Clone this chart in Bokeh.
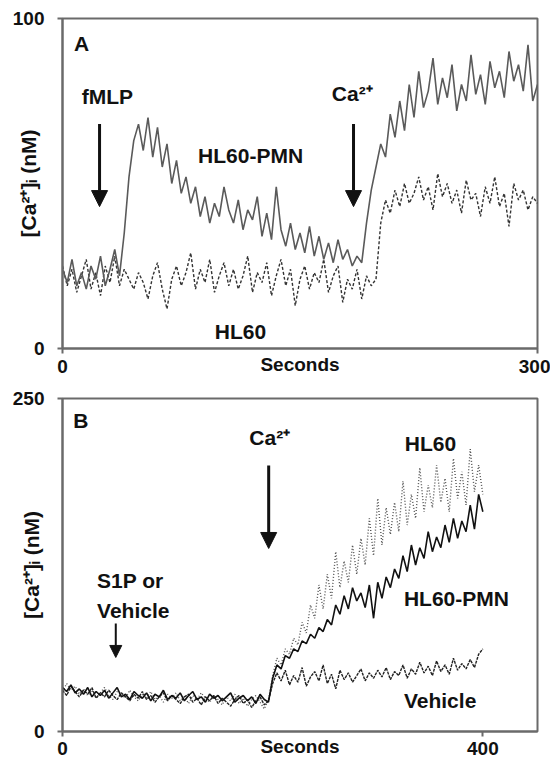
from bokeh.plotting import figure
from bokeh.layouts import column
from bokeh.models import Range1d, FixedTicker, Label, Arrow, NormalHead, ColumnDataSource
from bokeh.embed import file_html
from bokeh.resources import INLINE

# ---------------- Panel A data (seconds, nM) ----------------
time_a = list(range(0, 301, 3))
a_hl60_pmn = [24, 20, 27, 19, 23, 18, 25, 21, 28, 19, 24, 30, 22, 35, 52, 63, 68, 60, 70, 58,
              67, 55, 62, 50, 57, 47, 52, 44, 49, 40, 46, 38, 44, 40, 49, 42, 38, 45, 36, 42,
              39, 46, 34, 41, 33, 49, 36, 31, 38, 30, 35, 29, 37, 28, 34, 27, 32, 26, 33, 27,
              30, 25, 28, 26, 38, 48, 55, 62, 58, 71, 64, 75, 66, 80, 70, 84, 73, 78, 88, 74,
              82, 76, 86, 72, 80, 75, 89, 77, 83, 74, 87, 79, 84, 76, 90, 81, 86, 78, 92, 75, 80]
a_hl60 = [25, 19, 24, 17, 22, 27, 18, 23, 16, 25, 20, 28, 19, 24, 21, 18, 23, 20, 15, 22,
          26, 18, 12, 21, 25, 19, 23, 29, 18, 24, 20, 27, 17, 22, 26, 19, 24, 18, 22, 28,
          17, 23, 20, 26, 16, 22, 27, 19, 24, 13, 21, 25, 18, 23, 20, 27, 17, 22, 25, 14,
          21, 18, 24, 15, 22, 19, 21, 38, 45, 41, 48, 43, 50, 44, 47, 52, 45, 49, 42, 53,
          46, 50, 44, 48, 41, 51, 45, 47, 40, 49, 44, 52, 43, 47, 37, 50, 45, 48, 42, 46, 44]

# ---------------- Panel B data (seconds, nM) ----------------
time_b = list(range(0, 401, 4))
b_hl60_pmn = [33, 30, 35, 29, 32, 28, 33, 26, 30, 27, 31, 25, 29, 33, 26, 28, 24, 30, 27, 25,
              29, 23, 28, 26, 31, 24, 27, 25, 29, 23, 27, 30, 24, 26, 22, 28, 25, 27, 23, 26,
              29, 22, 25, 27, 23, 26, 21, 28, 24, 22, 40, 50, 47, 57, 55, 62, 60, 68, 66, 73,
              70, 78, 75, 84, 80, 95, 88, 102, 92, 108, 98, 104, 93, 110, 85, 112, 100, 116, 108, 122,
              115, 132, 120, 140, 125, 138, 130, 150, 135, 146, 138, 155, 142, 160, 145, 158, 150, 170, 152, 178, 165]
b_hl60 = [30, 36, 31, 34, 28, 32, 27, 31, 25, 29, 33, 27, 24, 30, 28, 25, 31, 26, 23, 28,
          25, 30, 24, 27, 22, 28, 25, 29, 23, 26, 21, 27, 24, 29, 25, 22, 27, 24, 20, 26,
          23, 28, 21, 25, 19, 24, 27, 22, 17, 24, 42, 55, 50, 62, 58, 70, 65, 82, 74, 95,
          85, 110, 92, 118, 100, 135, 108, 128, 112, 140, 118, 145, 125, 160, 132, 175, 140, 168, 148, 172,
          150, 188, 155, 178, 160, 198, 165, 185, 168, 200, 172, 190, 165, 205, 175, 195, 170, 212, 180, 200, 178]
b_vehicle = [31, 27, 34, 30, 26, 31, 28, 33, 25, 29, 26, 31, 27, 24, 29, 26, 23, 28, 25, 30,
             24, 27, 22, 26, 29, 23, 27, 24, 21, 26, 28, 22, 25, 20, 26, 23, 27, 21, 25, 22,
             19, 24, 27, 21, 24, 18, 23, 26, 20, 23, 36, 44, 38, 46, 35, 42, 37, 48, 34, 41,
             45, 38, 50, 36, 43, 32, 46, 39, 44, 37, 42, 47, 38, 44, 40, 46, 41, 48, 39, 45,
             42, 50, 40, 47, 43, 52, 44, 49, 42, 53, 45, 50, 43, 55, 46, 51, 47, 54, 48, 58, 62]

FONT = "Liberation Sans"
INK = "#111111"
YLABEL = "[Ca²⁺]ᵢ (nM)"


def style(p, xticks, yticks, ylab_standoff):
    p.xgrid.visible = False
    p.ygrid.visible = False
    p.outline_line_color = "#6a6a6a"
    p.outline_line_width = 2
    for ax in (p.xaxis[0], p.yaxis[0]):
        ax.axis_line_color = "#6a6a6a"
        ax.axis_line_width = 2
        ax.major_tick_line_color = "#6a6a6a"
        ax.major_tick_line_width = 2
        ax.major_tick_in = 0
        ax.major_tick_out = 5
        ax.minor_tick_line_color = None
        ax.major_label_text_font = FONT
        ax.major_label_text_font_style = "bold"
        ax.major_label_text_font_size = "19px"
        ax.major_label_text_color = INK
    p.xaxis[0].ticker = FixedTicker(ticks=xticks)
    p.yaxis[0].ticker = FixedTicker(ticks=yticks)
    p.xaxis[0].major_label_standoff = 6
    p.yaxis[0].major_label_standoff = 13
    # x axis title sits at the level of the tick labels
    p.xaxis[0].axis_label = "Seconds"
    p.xaxis[0].axis_label_text_font = FONT
    p.xaxis[0].axis_label_text_font_style = "bold"
    p.xaxis[0].axis_label_text_font_size = "19px"
    p.xaxis[0].axis_label_text_color = INK
    p.xaxis[0].axis_label_standoff = -22
    # y axis title
    p.yaxis[0].axis_label = YLABEL
    p.yaxis[0].axis_label_text_font = FONT
    p.yaxis[0].axis_label_text_font_style = "bold"
    p.yaxis[0].axis_label_text_font_size = "21px"
    p.yaxis[0].axis_label_text_color = INK
    p.yaxis[0].axis_label_standoff = ylab_standoff


def txt(p, x, y, s, align="center", size="21px"):
    p.add_layout(Label(x=x, y=y, text=s, text_align=align, text_baseline="middle",
                       text_font=FONT, text_font_style="bold", text_font_size=size,
                       text_color=INK))


def arrow(p, x, y0, y1, head=16, lw=3):
    p.add_layout(Arrow(end=NormalHead(size=head, fill_color=INK, line_color=INK),
                       x_start=x, y_start=y0, x_end=x, y_end=y1,
                       line_width=lw, line_color=INK))


# ---------------- Panel A ----------------
pA = figure(width=550, height=383, output_backend="svg", toolbar_location=None,
            x_range=Range1d(0, 300), y_range=Range1d(0, 100),
            min_border_left=62, min_border_right=13, min_border_top=18, min_border_bottom=35)
srcA = ColumnDataSource(dict(t=time_a, pmn=a_hl60_pmn, hl60=a_hl60))
pA.line("t", "hl60", source=srcA, line_color="#333333", line_width=1.4, line_dash="3 2")
pA.line("t", "pmn", source=srcA, line_color="#5a5a5a", line_width=1.6)
style(pA, [0, 300], [0, 100], -30)
txt(pA, 12, 92.5, "A")
txt(pA, 28.4, 76.5, "fMLP")
arrow(pA, 23.4, 68, 43)
txt(pA, 118.8, 58.5, "HL60-PMN")
txt(pA, 112.4, 5.2, "HL60")
txt(pA, 183, 77.3, "Ca²⁺")
arrow(pA, 183.8, 68, 43)

# ---------------- Panel B ----------------
pB = figure(width=550, height=380, output_backend="svg", toolbar_location=None,
            x_range=Range1d(0, 452), y_range=Range1d(0, 250),
            min_border_left=62, min_border_right=7, min_border_top=15, min_border_bottom=32)
srcB = ColumnDataSource(dict(t=time_b, pmn=b_hl60_pmn, hl60=b_hl60, veh=b_vehicle))
pB.line("t", "hl60", source=srcB, line_color="#555555", line_width=1.4, line_dash="1 2")
pB.line("t", "veh", source=srcB, line_color="#222222", line_width=1.4, line_dash="3 1")
pB.line("t", "pmn", source=srcB, line_color="#111111", line_width=1.6)
style(pB, [0, 400], [0, 250], -33)
pB.xaxis[0].major_label_standoff = 5
txt(pB, 17.4, 233.5, "B")
txt(pB, 197.2, 220.7, "Ca²⁺")
arrow(pB, 196.2, 199.7, 137.4)
txt(pB, 32.9, 113.4, "S1P or", align="left")
txt(pB, 32.9, 90.8, "Vehicle", align="left")
arrow(pB, 50.7, 81, 55.6, head=12, lw=2)
txt(pB, 350.2, 216, "HL60")
txt(pB, 324.9, 99.8, "HL60-PMN", align="left")
txt(pB, 324.9, 23.3, "Vehicle", align="left")

layout = column(pA, pB)
open("out.html", "w").write(file_html(layout, INLINE))
